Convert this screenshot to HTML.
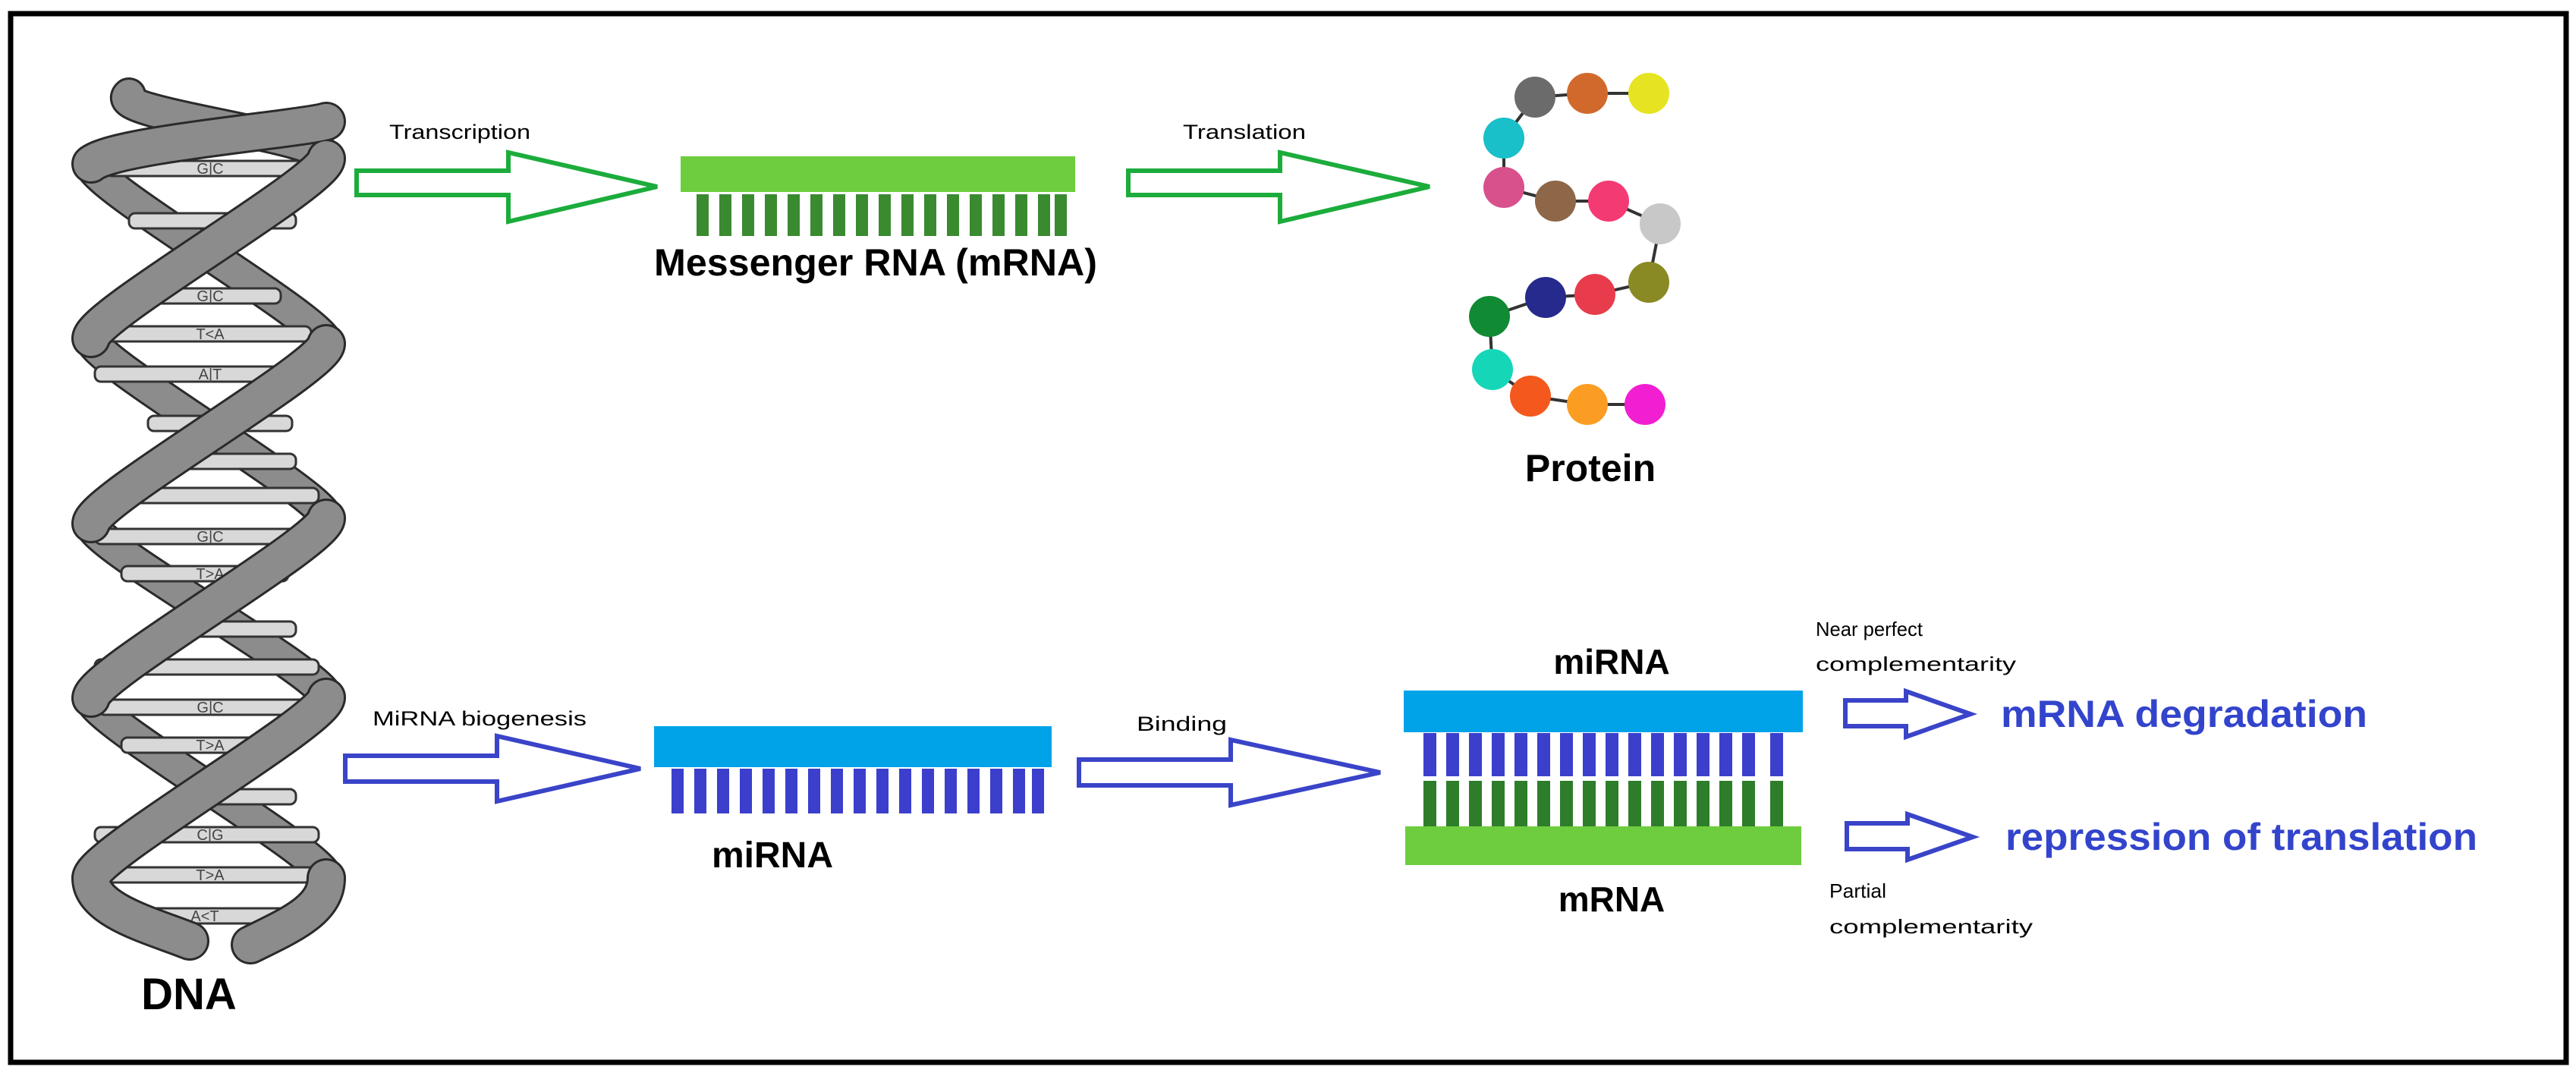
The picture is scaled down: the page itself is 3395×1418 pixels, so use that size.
<!DOCTYPE html>
<html><head><meta charset="utf-8"><style>
html,body{margin:0;padding:0;background:#fff}
body{width:3395px;height:1418px;overflow:hidden}
svg{display:block}
text{font-family:"Liberation Sans",sans-serif}
</style></head><body>
<svg width="3395" height="1418" viewBox="0 0 3395 1418" xmlns="http://www.w3.org/2000/svg">
<rect x="14" y="18" width="3368" height="1382" fill="#fff" stroke="#000" stroke-width="7"/>

<!-- DNA back segments -->
<g fill="none" stroke-linecap="round">
<path d="M120 216 C120 246 430 423 430 453 M120 690 C120 720 430 889 430 919 M170 125 C140 150 430 179 430 209 M120 446 C120 476 430 653 430 683 M120 920 C120 950 430 1127 430 1157" stroke="#2a2a2a" stroke-width="46"/>
<path d="M120 216 C120 246 430 423 430 453 M120 690 C120 720 430 889 430 919 M170 125 C140 150 430 179 430 209 M120 446 C120 476 430 653 430 683 M120 920 C120 950 430 1127 430 1157" stroke="#8c8c8c" stroke-width="40"/>
</g>
<!-- rungs -->
<g fill="#d8d8d8" stroke="#333" stroke-width="3">
<rect x="140" y="212" width="270" height="20" rx="8"/>
<rect x="170" y="281" width="220" height="20" rx="8"/>
<rect x="190" y="380" width="180" height="20" rx="8"/>
<rect x="135" y="430" width="275" height="20" rx="8"/>
<rect x="125" y="483" width="290" height="20" rx="8"/>
<rect x="195" y="548" width="190" height="20" rx="8"/>
<rect x="240" y="598" width="150" height="20" rx="8"/>
<rect x="160" y="643" width="260" height="20" rx="8"/>
<rect x="125" y="697" width="290" height="20" rx="8"/>
<rect x="160" y="746" width="220" height="20" rx="8"/>
<rect x="240" y="819" width="150" height="20" rx="8"/>
<rect x="125" y="869" width="295" height="20" rx="8"/>
<rect x="130" y="922" width="285" height="20" rx="8"/>
<rect x="160" y="972" width="220" height="20" rx="8"/>
<rect x="240" y="1040" width="150" height="20" rx="8"/>
<rect x="125" y="1090" width="295" height="20" rx="8"/>
<rect x="130" y="1143" width="285" height="20" rx="8"/>
<rect x="160" y="1197" width="220" height="20" rx="8"/>
</g>
<g font-family="Liberation Sans" font-size="20" fill="#444" text-anchor="middle">
<text x="277" y="229">G|C</text><text x="277" y="397">G|C</text><text x="277" y="447">T&lt;A</text><text x="277" y="500">A|T</text>
<text x="277" y="714">G|C</text><text x="277" y="763">T&gt;A</text><text x="250" y="836">A&lt;</text>
<text x="277" y="939">G|C</text><text x="277" y="989">T&gt;A</text><text x="250" y="1057">A&lt;</text>
<text x="277" y="1107">C|G</text><text x="277" y="1160">T&gt;A</text><text x="270" y="1214">A&lt;T</text>
</g>
<!-- DNA front segments -->
<g fill="none" stroke-linecap="round">
<path d="M430 209 C430 239 120 416 120 446 M430 683 C430 713 120 890 120 920 M430 160 C400 170 150 190 120 216 M430 453 C430 483 120 660 120 690 M430 919 C430 949 120 1127 120 1157 M430 1157 C430 1200 380 1220 330 1245 M120 1157 C120 1200 200 1220 250 1240" stroke="#2a2a2a" stroke-width="52"/>
<path d="M430 209 C430 239 120 416 120 446 M430 683 C430 713 120 890 120 920 M430 160 C400 170 150 190 120 216 M430 453 C430 483 120 660 120 690 M430 919 C430 949 120 1127 120 1157 M430 1157 C430 1200 380 1220 330 1245 M120 1157 C120 1200 200 1220 250 1240" stroke="#8c8c8c" stroke-width="46"/>
</g>
<text x="249" y="1330" font-size="58" font-weight="bold" text-anchor="middle">DNA</text>

<!-- Top row -->
<text x="513" y="183" font-size="27" textLength="186" lengthAdjust="spacingAndGlyphs">Transcription</text>
<polygon points="470,225 670,225 670,201 866,246 670,292 670,257 470,257" fill="none" stroke="#1cac3c" stroke-width="6"/>
<rect x="897" y="206" width="520" height="47" fill="#6dcd3e"/>
<g fill="#3a8a30">
<rect x="918" y="256" width="16" height="55"/><rect x="948" y="256" width="16" height="55"/><rect x="978" y="256" width="16" height="55"/><rect x="1008" y="256" width="16" height="55"/><rect x="1038" y="256" width="16" height="55"/><rect x="1068" y="256" width="16" height="55"/><rect x="1098" y="256" width="16" height="55"/><rect x="1128" y="256" width="16" height="55"/><rect x="1158" y="256" width="16" height="55"/><rect x="1188" y="256" width="16" height="55"/><rect x="1218" y="256" width="16" height="55"/><rect x="1248" y="256" width="16" height="55"/><rect x="1278" y="256" width="16" height="55"/><rect x="1308" y="256" width="16" height="55"/><rect x="1338" y="256" width="16" height="55"/><rect x="1368" y="256" width="16" height="55"/><rect x="1390" y="256" width="16" height="55"/>
</g>
<text x="862" y="363" font-size="50" font-weight="bold" textLength="584" lengthAdjust="spacingAndGlyphs">Messenger RNA (mRNA)</text>
<text x="1559" y="183" font-size="27" textLength="162" lengthAdjust="spacingAndGlyphs">Translation</text>
<polygon points="1487,225 1687,225 1687,201 1884,246 1687,292 1687,257 1487,257" fill="none" stroke="#1cac3c" stroke-width="6"/>

<!-- Protein -->
<polyline points="1982,182 2023,128 2092,123 2173,123" fill="none" stroke="#333" stroke-width="4"/>
<polyline points="1982,182 1982,247 2050,265 2120,265 2188,295 2173,372 2102,388 2037,392 1963,417 1967,487 2017,522 2092,533 2168,533" fill="none" stroke="#333" stroke-width="4"/>
<g>
<circle cx="2023" cy="128" r="27" fill="#6b6b6b"/><circle cx="2092" cy="123" r="27" fill="#d2692c"/><circle cx="2173" cy="123" r="27" fill="#e6e422"/>
<circle cx="1982" cy="182" r="27" fill="#19bfc9"/><circle cx="1982" cy="247" r="27" fill="#d8508c"/><circle cx="2050" cy="265" r="27" fill="#8e6648"/>
<circle cx="2120" cy="265" r="27" fill="#f43a72"/><circle cx="2188" cy="295" r="27" fill="#c8c8c8"/><circle cx="2173" cy="372" r="27" fill="#8a8a24"/>
<circle cx="2102" cy="388" r="27" fill="#e83c4c"/><circle cx="2037" cy="392" r="27" fill="#262a8c"/><circle cx="1963" cy="417" r="27" fill="#118a34"/>
<circle cx="1967" cy="487" r="27" fill="#16d6b8"/><circle cx="2017" cy="522" r="27" fill="#f4581c"/><circle cx="2092" cy="533" r="27" fill="#fb9d22"/>
<circle cx="2168" cy="533" r="27" fill="#f21ed2"/>
</g>
<text x="2096" y="634" font-size="50" font-weight="bold" text-anchor="middle">Protein</text>

<!-- Bottom row -->
<text x="491" y="956" font-size="27" textLength="282" lengthAdjust="spacingAndGlyphs">MiRNA biogenesis</text>
<polygon points="455,996 655,996 655,970 844,1013 655,1056 655,1030 455,1030" fill="none" stroke="#3a44c8" stroke-width="6"/>
<rect x="862" y="957" width="524" height="54" fill="#00a3e8"/>
<g fill="#3b3fcc">
<rect x="885" y="1013" width="16" height="59"/><rect x="915" y="1013" width="16" height="59"/><rect x="945" y="1013" width="16" height="59"/><rect x="975" y="1013" width="16" height="59"/><rect x="1005" y="1013" width="16" height="59"/><rect x="1035" y="1013" width="16" height="59"/><rect x="1065" y="1013" width="16" height="59"/><rect x="1095" y="1013" width="16" height="59"/><rect x="1125" y="1013" width="16" height="59"/><rect x="1155" y="1013" width="16" height="59"/><rect x="1185" y="1013" width="16" height="59"/><rect x="1215" y="1013" width="16" height="59"/><rect x="1245" y="1013" width="16" height="59"/><rect x="1275" y="1013" width="16" height="59"/><rect x="1305" y="1013" width="16" height="59"/><rect x="1335" y="1013" width="16" height="59"/><rect x="1360" y="1013" width="16" height="59"/>
</g>
<text x="1018" y="1143" font-size="48" font-weight="bold" text-anchor="middle">miRNA</text>
<text x="1498" y="963" font-size="27" textLength="119" lengthAdjust="spacingAndGlyphs">Binding</text>
<polygon points="1422,1001 1622,1001 1622,975 1819,1018 1622,1061 1622,1035 1422,1035" fill="none" stroke="#3a44c8" stroke-width="6"/>

<!-- Complex -->
<rect x="1850" y="910" width="526" height="55" fill="#00a3e8"/>
<g fill="#3b3fcc">
<rect x="1876" y="966" width="17" height="57"/><rect x="1906" y="966" width="17" height="57"/><rect x="1936" y="966" width="17" height="57"/><rect x="1966" y="966" width="17" height="57"/><rect x="1996" y="966" width="17" height="57"/><rect x="2026" y="966" width="17" height="57"/><rect x="2056" y="966" width="17" height="57"/><rect x="2086" y="966" width="17" height="57"/><rect x="2116" y="966" width="17" height="57"/><rect x="2146" y="966" width="17" height="57"/><rect x="2176" y="966" width="17" height="57"/><rect x="2206" y="966" width="17" height="57"/><rect x="2236" y="966" width="17" height="57"/><rect x="2266" y="966" width="17" height="57"/><rect x="2296" y="966" width="17" height="57"/><rect x="2333" y="966" width="17" height="57"/>
</g>
<g fill="#2e7d2a">
<rect x="1876" y="1029" width="17" height="60"/><rect x="1906" y="1029" width="17" height="60"/><rect x="1936" y="1029" width="17" height="60"/><rect x="1966" y="1029" width="17" height="60"/><rect x="1996" y="1029" width="17" height="60"/><rect x="2026" y="1029" width="17" height="60"/><rect x="2056" y="1029" width="17" height="60"/><rect x="2086" y="1029" width="17" height="60"/><rect x="2116" y="1029" width="17" height="60"/><rect x="2146" y="1029" width="17" height="60"/><rect x="2176" y="1029" width="17" height="60"/><rect x="2206" y="1029" width="17" height="60"/><rect x="2236" y="1029" width="17" height="60"/><rect x="2266" y="1029" width="17" height="60"/><rect x="2296" y="1029" width="17" height="60"/><rect x="2333" y="1029" width="17" height="60"/>
</g>
<rect x="1852" y="1089" width="522" height="51" fill="#6dcd3e"/>
<text x="2124" y="888" font-size="46" font-weight="bold" text-anchor="middle">miRNA</text>
<text x="2124" y="1201" font-size="46" font-weight="bold" text-anchor="middle">mRNA</text>
<text x="2393" y="838" font-size="26" textLength="141" lengthAdjust="spacingAndGlyphs">Near perfect</text>
<text x="2393" y="884" font-size="26" textLength="264" lengthAdjust="spacingAndGlyphs">complementarity</text>
<text x="2411" y="1183" font-size="26" textLength="75" lengthAdjust="spacingAndGlyphs">Partial</text>
<text x="2411" y="1230" font-size="26" textLength="268" lengthAdjust="spacingAndGlyphs">complementarity</text>
<polygon points="2432,923 2512,923 2512,911 2597,941 2512,971 2512,957 2432,957" fill="none" stroke="#3a44c8" stroke-width="6"/>
<polygon points="2434,1085 2514,1085 2514,1073 2600,1103 2514,1133 2514,1119 2434,1119" fill="none" stroke="#3a44c8" stroke-width="6"/>
<text x="2637" y="958" font-size="50" font-weight="bold" fill="#3344cc" textLength="483" lengthAdjust="spacingAndGlyphs">mRNA degradation</text>
<text x="2643" y="1120" font-size="50" font-weight="bold" fill="#3344cc" textLength="622" lengthAdjust="spacingAndGlyphs">repression of translation</text>
</svg>
</body></html>
